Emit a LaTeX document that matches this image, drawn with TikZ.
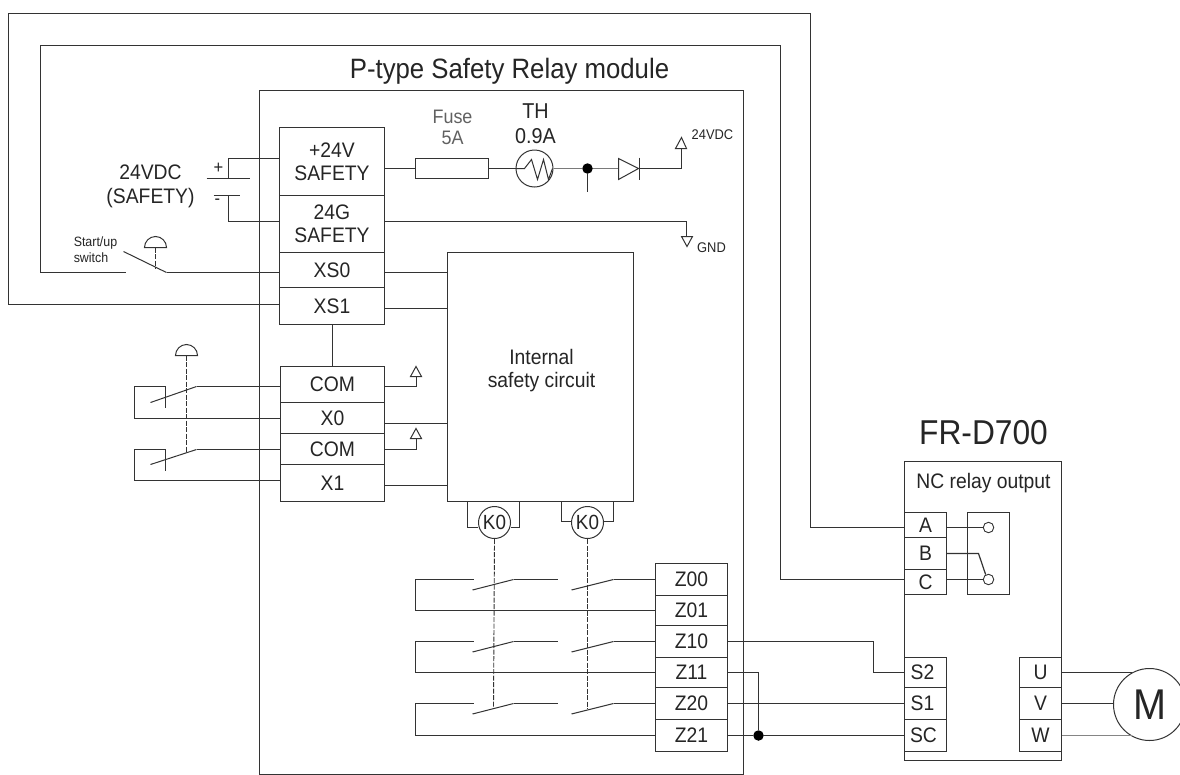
\documentclass[tikz,border=0pt]{standalone}
\usepackage{fontspec}
\setmainfont[FakeStretch=0.92]{Liberation Sans}
\definecolor{ink}{HTML}{333333}
\definecolor{txt}{HTML}{252525}
\tikzset{
  x=1pt,y=-1pt,
  wire/.style={draw=ink,line width=1.2pt},
  thin wire/.style={draw=ink,line width=1pt},
  dashwire/.style={draw=ink,line width=0.9pt,dash pattern=on 5pt off 1.5pt},
  cell/.style={draw=ink,line width=1.2pt,inner sep=0pt,align=center,font=\fontsize{21}{23}\selectfont,text=txt},
  lbl/.style={inner sep=0pt,align=center,text=txt},
  dot/.style={circle,fill=black,draw=none,minimum size=10.5pt,inner sep=0pt},
  ring/.style={circle,draw=ink,line width=1pt,inner sep=0pt,text=txt},
  pin/.style={circle,draw=ink,line width=.9pt,minimum size=10.5pt,inner sep=0pt,fill=white},
}
\begin{document}
\begin{tikzpicture}
\useasboundingbox (-.5,-.5) rectangle (1179.5,773.5);
\fill[white] (-.5,-.5) rectangle (1179.5,773.5);

% ---------- enclosures
\node[cell,minimum width=484pt,minimum height=684pt] (module) at (501,432) {};
\node[cell,minimum width=157pt,minimum height=299pt] (drive) at (982.5,610.5) {};
\node[lbl,font=\fontsize{28}{30}\selectfont] (modtitle) at (509,71) {P-type Safety Relay module};
\node[lbl,font=\fontsize{34.5}{36}\selectfont] (drvtitle) at (983,432) {FR-D700};
\node[lbl,font=\fontsize{21}{22}\selectfont] (nctitle) at (983,483) {NC relay output};

% ---------- terminal blocks of the module
\node[cell,minimum width=105pt,minimum height=68pt] (p24) at (331.5,161) {+24V\\SAFETY};
\node[cell,minimum width=105pt,minimum height=57pt] (g24) at (331.5,223.5) {24G\\SAFETY};
\node[cell,minimum width=105pt,minimum height=35pt] (xs0) at (331.5,269.5) {XS0};
\node[cell,minimum width=105pt,minimum height=37pt] (xs1) at (331.5,305.5) {XS1};
\node[cell,minimum width=104pt,minimum height=36pt] (com0) at (332,384) {COM};
\node[cell,minimum width=104pt,minimum height=31pt] (x0) at (332,417.5) {X0};
\node[cell,minimum width=104pt,minimum height=31pt] (com1) at (332,448.5) {COM};
\node[cell,minimum width=104pt,minimum height=37pt] (x1) at (332,482.5) {X1};
\node[cell,minimum width=186pt,minimum height=249pt] (safety) at (540,376.5) {};
\node[lbl,font=\fontsize{21}{23}\selectfont] (safetytxt) at (541,370) {Internal\\safety circuit};

\foreach \n/\t/\y/\h in {z00/Z00/579/32,z01/Z01/610/30,z10/Z10/641/32,z11/Z11/672/30,z20/Z20/703/32,z21/Z21/735/32}
  \node[cell,minimum width=72pt,minimum height=\h pt] (\n) at (691,\y) {\t};

% ---------- terminal blocks of the drive
\node[cell,minimum width=42pt,minimum height=25pt] (ta) at (925,524.5) {A};
\node[cell,minimum width=42pt,minimum height=32pt] (tb) at (925,553) {B};
\node[cell,minimum width=42pt,minimum height=25pt] (tc) at (925,581.5) {C};
\node[cell,minimum width=42pt,minimum height=30pt] (s2) at (925,672) {S2\hspace{6pt}};
\node[cell,minimum width=42pt,minimum height=32pt] (s1) at (925,703) {S1\hspace{6pt}};
\node[cell,minimum width=42pt,minimum height=32pt] (sc) at (925,735) {SC\hspace{4pt}};
\node[cell,minimum width=42pt,minimum height=30pt] (tu) at (1040,672) {U};
\node[cell,minimum width=42pt,minimum height=32pt] (tv) at (1040,703) {V};
\node[cell,minimum width=42pt,minimum height=32pt] (tw) at (1040,735) {W};
\node[cell,minimum width=42pt,minimum height=82pt] (relay) at (988,553) {};
\node[pin] (pa) at (988,527) {};
\node[pin] (pc) at (988,579) {};
\node[ring,minimum size=72pt,font=\fontsize{43}{46}\selectfont] (motor) at (1149,704) {M};

% ---------- long safety loop
\draw[wire] (xs1.west |- 0,304) -- (8,304) -- (8,13) -- (810,13) -- (810,527) -- (ta.west |- 0,527);
\coordinate (startL) at (125,272);
\coordinate (startR) at (166,272);
\draw[wire] (startL) -- (40,272) -- (40,45) -- (780,45) -- (780,579) -- (tc.west |- 0,579);
\draw[wire] (startR) -- (xs0.west |- startR);
\draw[thin wire] (startR) -- (123,251);
\draw[dashwire] (155,247) -- (155,268);
\draw[thin wire] (144,247) arc (180:360:11 and 11) -- cycle;
\node[lbl,font=\fontsize{13.5}{16}\selectfont,align=left] (startlbl) at (95,249) {Start/up\\switch};

% ---------- supply
\node[lbl,font=\fontsize{21}{23.5}\selectfont] (vdc) at (150,186) {24VDC\\(SAFETY)};
\node[lbl,font=\fontsize{18}{20}\selectfont] (plus) at (218,168) {+};
\node[lbl,font=\fontsize{18}{20}\selectfont] (minus) at (217,201) {-};
\coordinate (batP) at (228,178);
\coordinate (batN) at (228,195);
\draw[wire] (206,178) -- (249,178);
\draw[wire] (213,195) -- (239,195);
\draw[wire] (batP) -- (228,158) -- (p24.west |- 0,158);
\draw[wire] (batN) -- (228,221) -- (g24.west |- 0,221);

% ---------- fuse, thermistor, diode
\node[cell,minimum width=73pt,minimum height=20pt] (fuse) at (451.5,168) {};
\node[ring,minimum size=37pt] (th) at (534,168) {};
\node[lbl,font=\fontsize{19.5}{21}\selectfont,text=black!62] (fuselbl) at (452,126.5) {Fuse\\5A};
\node[lbl,font=\fontsize{21.5}{25}\selectfont] (thlbl) at (535,123.5) {TH\\0.9A};
\node[dot] (jn) at (587,168) {};
\coordinate (jnstub) at (587,191);
\coordinate (pwr) at (681,148);
\draw[wire] (p24.east |- fuse.west) -- (fuse.west);
\draw[wire] (fuse.east) -- (th.west);
\draw[thin wire] (th.west) -- (524,168) -- (531,159) -- (537,179) -- (543,159) -- (548,179) -- (552,168);
\draw[wire,draw=ink!65] (th.east) -- (jn) -- (618,168);
\draw[wire] (jn) -- (jnstub);
\draw[thin wire] (618,158) -- (638,168) -- (618,179) -- cycle;
\draw[wire] (639,157) -- (639,179);
\draw[wire] (639,168) -- (681,168) -- (pwr);
\draw[thin wire] (675,148) -- (681,137) -- (686,148) -- cycle;
\node[lbl,font=\fontsize{14}{15}\selectfont] (vlbl) at (712,134) {24VDC};
\coordinate (gnd) at (686,235);
\draw[wire] (g24.east |- 0,221) -- (686,221) -- (gnd);
\draw[thin wire] (681,236) -- (692,236) -- (686.5,246) -- cycle;
\node[lbl,font=\fontsize{14}{15}\selectfont] (glbl) at (711,247) {GND};

% ---------- terminals to safety circuit
\draw[wire] (xs0.east |- 0,272) -- (safety.west |- 0,272);
\draw[wire] (xs1.east |- 0,308) -- (safety.west |- 0,308);
\draw[wire] (x0.east |- 0,423) -- (safety.west |- 0,423);
\draw[wire] (x1.east |- 0,485) -- (safety.west |- 0,485);
\draw[wire] (332,324) -- (com0.north);
\draw[wire] (com0.east |- 0,386) -- (416,386) -- (416,376);
\draw[thin wire] (410,376) -- (421,376) -- (415.5,366) -- cycle;
\draw[wire] (com1.east |- 0,449) -- (416,449) -- (416,438);
\draw[thin wire] (410,438) -- (421,438) -- (415.5,428) -- cycle;

% ---------- emergency stop contacts
\draw[wire] (com0.west |- 0,386) -- (196,386);
\draw[thin wire] (196,386) -- (150,402);
\draw[wire] (165,407) -- (165,386) -- (134,386) -- (134,418) -- (x0.west |- 0,418);
\draw[wire] (com1.west |- 0,449) -- (196,449);
\draw[thin wire] (196,449) -- (150,464);
\draw[wire] (165,470) -- (165,449) -- (134,449) -- (134,480) -- (x1.west |- 0,480);
\draw[dashwire] (186,355) -- (186,452);
\draw[thin wire] (175,355) arc (180:360:11 and 11) -- cycle;

% ---------- K0 coils
\node[ring,minimum size=32pt,font=\fontsize{20.5}{22}\selectfont] (k1) at (494,522) {K0};
\node[ring,minimum size=32pt,font=\fontsize{20.5}{22}\selectfont] (k2) at (587,522) {K0};
\draw[wire] (467,501) -- (467,527) -- (k1.west |- 0,527);
\draw[wire] (519,501) -- (519,527) -- (k1.east |- 0,527);
\draw[wire] (561,501) -- (561,521) -- (k2.west |- 0,521);
\draw[wire] (613,501) -- (613,521) -- (k2.east |- 0,521);
\draw[dashwire] (k1.south) -- (493,708);
\draw[dashwire] (k2.south) -- (587,708);

% ---------- safety output contacts
\foreach \a/\b in {z00/z01,z10/z11,z20/z21}{
  \draw[wire] (\a.west) -- (613,0 |- \a.west);
  \draw[thin wire] (613,0 |- \a.west) -- ++(-42,10.5);
  \draw[wire] (557,0 |- \a.west) -- (513,0 |- \a.west);
  \draw[thin wire] (513,0 |- \a.west) -- ++(-41,10.5);
  \draw[wire] (473,0 |- \a.west) -- (415,0 |- \a.west) -- (415,0 |- \b.west) -- (\b.west);
}

% ---------- wiring to the drive
\node[dot] (jn2) at (758,735) {};
\coordinate (s2bendA) at (873,641);
\coordinate (s2bendB) at (873,672);
\coordinate (z11bend) at (758,672);
\draw[wire] (z10.east) -- (s2bendA) -- (s2bendB) -- (s2.west);
\draw[wire] (z11.east) -- (z11bend) -- (jn2);
\draw[wire] (z20.east) -- (s1.west);
\draw[wire] (z21.east) -- (jn2) -- (sc.west);

% ---------- relay output and motor
\draw[wire] (ta.east |- pa) -- (pa);
\draw[wire] (tc.east |- pc) -- (pc);
\coordinate (bknee) at (978,553);
\draw[wire] (tb.east |- bknee) -- (bknee) -- (pc.120);
\draw[wire] (tu.east) -- (tu.east -| motor.119);
\draw[wire] (tv.east) -- (tv.east -| motor.west);
\draw[wire,draw=ink!60] (tw.east) -- (tw.east -| motor.241);
\end{tikzpicture}
\end{document}
